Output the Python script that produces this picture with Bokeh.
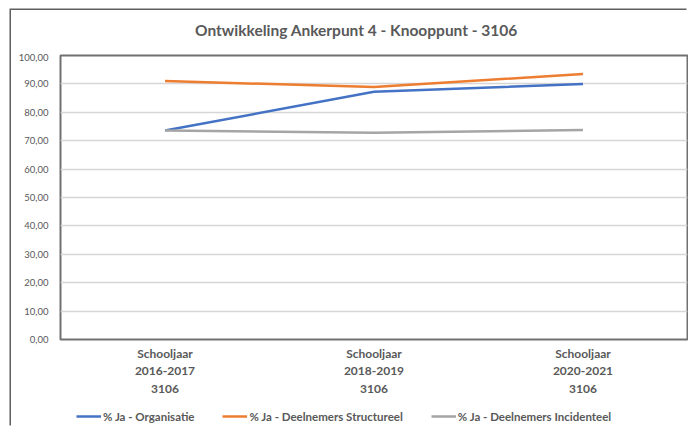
from bokeh.plotting import figure
from bokeh.layouts import column
from bokeh.models import (FactorRange, Legend, LegendItem, SingleIntervalTicker,
                          CustomJSTickFormatter, Label)
from bokeh.embed import file_html
from bokeh.resources import INLINE

categories = ["Schooljaar\n2016-2017\n3106", "Schooljaar\n2018-2019\n3106", "Schooljaar\n2020-2021\n3106"]
series_names = ["% Ja - Organisatie", "% Ja - Deelnemers Structureel", "% Ja - Deelnemers Incidenteel"]
organisatie = [73.6, 87.2, 90.0]
structureel = [91.0, 88.9, 93.5]
incidenteel = [73.6, 72.8, 73.8]
colors = ["#4472C4", "#ED7D31", "#A5A5A5"]
title_text = "Ontwikkeling Ankerpunt 4 - Knooppunt - 3106"

FONT = "Lato"
TXT = "#595959"
W = 677


def bare(height):
    f = figure(width=W, height=height, x_range=(0, 1), y_range=(0, 1),
               x_axis_location=None, y_axis_location=None,
               output_backend="svg", toolbar_location=None,
               min_border_left=0, min_border_right=0, min_border_top=0, min_border_bottom=0)
    f.grid.grid_line_color = None
    f.outline_line_color = None
    return f


# title strip (its frame is aligned with the chart frame by the column layout)
t = bare(43)
t.add_layout(Label(x=0.472, y=0.558, text=title_text, text_align="center", text_baseline="middle",
                   text_font=FONT, text_font_size="15.5px", text_font_style="bold", text_color=TXT))

# main chart
p = figure(width=W, height=346, x_range=FactorRange(*categories), y_range=(0, 100),
           output_backend="svg", toolbar_location=None,
           min_border_left=49, min_border_right=1, min_border_top=2, min_border_bottom=60)
p.outline_line_color = "#707070"
p.outline_line_width = 2

renderers = []
for vals, c in zip([organisatie, structureel, incidenteel], colors):
    renderers.append(p.line(categories, vals, line_color=c, line_width=2.5))

p.xgrid.grid_line_color = None
p.ygrid.grid_line_color = "#d6d6d6"
p.ygrid.grid_line_width = 1.5

p.yaxis.ticker = SingleIntervalTicker(interval=10)
p.yaxis.formatter = CustomJSTickFormatter(code="return tick.toFixed(2).replace('.', ',');")
for ax in (p.xaxis[0], p.yaxis[0]):
    ax.axis_line_color = None
    ax.major_tick_line_color = None
    ax.minor_tick_line_color = None
    ax.major_label_text_font = FONT
    ax.major_label_text_color = TXT
p.yaxis.major_label_text_font_size = "9.5px"
p.yaxis.major_label_standoff = 6
p.xaxis.major_label_text_font_size = "12px"
p.xaxis.major_label_text_font_style = "bold"
p.xaxis.major_label_text_line_height = 1.17
p.xaxis.major_label_standoff = 0

# legend strip (legend swatches use off-range points so only the key is drawn)
lf = bare(28)
legend_renderers = [lf.line(x=[0, 1], y=[-1, -1], line_color=c, line_width=2.5) for c in colors]
legend = Legend(items=[LegendItem(label=n, renderers=[r]) for n, r in zip(series_names, legend_renderers)],
                orientation="horizontal", location=(16, 4),
                border_line_color=None, background_fill_alpha=0,
                label_text_font=FONT, label_text_font_size="11.5px", label_text_font_style="bold",
                label_text_color=TXT, glyph_width=25, glyph_height=14, label_height=14,
                label_standoff=2, spacing=28, padding=2, margin=0)
lf.add_layout(legend)

layout = column(t, p, lf, spacing=0)
layout.margin = (10, 0, 0, 11)
layout.styles = {"box-shadow": "-1.5px -1.5px 0 0 #5f5f5f"}

open("out.html", "w").write(file_html(layout, INLINE))
